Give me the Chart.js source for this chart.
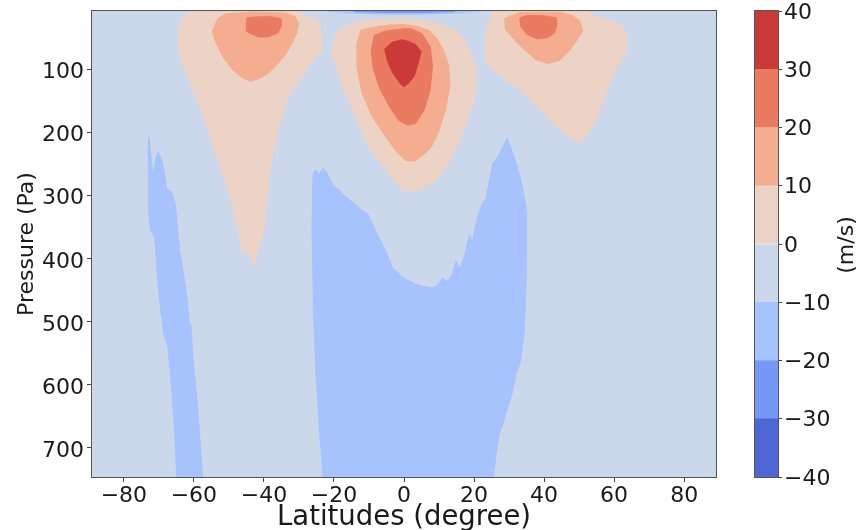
<!DOCTYPE html>
<html lang="en">
<head>
<meta charset="UTF-8">
<title>Zonal mean wind</title>
<script src="https://cdn.jsdelivr.net/npm/chart.js"></script>
<style>
    body { margin: 0; background: #fff; }
    .wrap { position: relative; width: 858px; height: 530px; }
    .wrap canvas { position: absolute; left: 0; top: 0; }
</style>
</head>
<body>
<div class="wrap">
    <canvas id="windChart" width="858" height="530"></canvas>
    <canvas id="colorBar" width="858" height="530"></canvas>
</div>
<script>
// axis limits and ticks
const latRange = [-89.1, 89.1];
const pressureRange = [7, 746];
const latTicks = [-80, -60, -40, -20, 0, 20, 40, 60, 80];
const pressureTicks = [100, 200, 300, 400, 500, 600, 700];

// contour levels (m/s) and the fill of each band between them
const levels = [-40, -30, -20, -10, 0, 10, 20, 30, 40];
const bandColors = ['#4f66d5', '#7699f5', '#a6c3fd', '#cbd8eb', '#ecd3c5', '#f5ad8f', '#ea7b61', '#c93a38'];

// band outlines, [latitude, pressure] vertices
const fieldAll = [[-90, 0], [90, 0], [90, 760], [-90, 760]];
const negWestStrip = [[-73.0, 206.3], [-72.6, 207.4], [-72.1, 238.1], [-71.6, 261.9], [-71.1, 243.3], [-70.2, 228.5], [-69.0, 243.3], [-68.1, 269.8], [-67.6, 288.3], [-66.4, 293.6], [-65.4, 306.8], [-65.0, 322.7], [-64.5, 354.4], [-63.8, 391.5], [-62.8, 423.2], [-61.9, 460.3], [-61.2, 497.3], [-60.7, 507.9], [-60.0, 566.1], [-59.0, 619], [-58.1, 687.8], [-57.2, 760], [-64.9, 760], [-65.7, 671.9], [-66.7, 592.5], [-67.6, 539.6], [-68.8, 518.5], [-69.5, 486.7], [-70.5, 433.8], [-71.1, 380.9], [-71.6, 362.4], [-72.6, 354.4], [-73.0, 328], [-73.1, 275], [-73.2, 227.5]];
const negTropics = [[-23.1, 760], [-24.3, 671.9], [-25.2, 592.5], [-26.0, 486.7], [-26.4, 354.4], [-26.2, 275.1], [-25.9, 261.9], [-25.2, 258.2], [-24.3, 264.5], [-23.1, 255.5], [-22.2, 260.3], [-20.9, 275.1], [-19.7, 285.7], [-18.4, 289.9], [-17.1, 298.9], [-15.2, 306.8], [-12.8, 318.5], [-10.0, 330.6], [-8.1, 354.4], [-5.2, 386.2], [-3.3, 412.7], [-0.5, 428.5], [3.3, 439.1], [5.7, 443.3], [8.1, 445.4], [9.5, 441.7], [11.0, 429.6], [12.4, 434.9], [13.5, 425.9], [14.8, 402.1], [16.0, 413.7], [17.2, 394.1], [18.6, 359.7], [19.5, 370.3], [20.2, 349.2], [21.2, 328], [22.4, 309.5], [23.3, 304.2], [24.3, 275.1], [25.2, 248.6], [26.7, 238.1], [28.1, 222.2], [29.5, 207.4], [30.7, 224.8], [31.9, 243.3], [33.3, 269.8], [34.3, 296.2], [35.2, 328], [35.1, 433.8], [34.5, 513.2], [33.5, 560.8], [32.2, 582], [31.0, 613.7], [29.3, 645.4], [27.4, 677.2], [26.5, 708.9], [25.3, 760]];
const negTopOuter = [[-23, 0], [-22, 8], [-15, 11], [-5, 13], [5, 13], [15, 11], [22, 8], [24, 0]];
const negTopInner = [[-17, 0], [-14, 8.5], [-5, 10], [5, 10], [14, 8.5], [19, 0]];
const posPoleEdge = [[-90, 560], [-88.85, 560], [-88.85, 760], [-90, 760]];
const posWest0 = [[-59.5, 0], [-62.4, 13.2], [-63.8, 21.1], [-64.5, 34.3], [-64.7, 58.2], [-64.1, 82], [-62.4, 105.8], [-60.5, 132.2], [-58.1, 164], [-56.2, 195.7], [-54.3, 227.5], [-52.4, 259.2], [-50.5, 291], [-48.6, 328], [-47.3, 359.7], [-46.4, 394.1], [-45.4, 388.8], [-44.3, 391.5], [-42.8, 415.3], [-42.2, 402.1], [-41.4, 380.9], [-40.5, 367.7], [-39.8, 349.2], [-39.2, 317.4], [-38.6, 280.4], [-37.6, 243.3], [-36.5, 211.6], [-34.7, 174.6], [-33.3, 148.1], [-31.4, 129.6], [-29.2, 113.7], [-27.0, 92.5], [-24.3, 76.7], [-23.1, 69.8], [-23.3, 47.6], [-23.8, 29.1], [-25.2, 18.5], [-29.0, 11.6], [-31.9, 0]];
const posWest10 = [[-50.9, 10.5], [-53.3, 18.5], [-54.9, 39.6], [-53.8, 58.2], [-51.9, 79.3], [-49.0, 100.5], [-46.2, 113.7], [-43.8, 119], [-41.4, 115.3], [-38.6, 105.8], [-36.2, 92.5], [-33.8, 76.7], [-31.9, 58.2], [-30.5, 42.3], [-30.0, 26.4], [-31.0, 14.8], [-33.8, 9.5], [-43.3, 7.9]];
const posWest20 = [[-45.0, 16.9], [-45.2, 39.6], [-43.3, 44.9], [-41.4, 49.2], [-38.7, 48.6], [-35.9, 42.3], [-34.8, 29.1], [-35.0, 18.5], [-38.6, 14.8], [-42.4, 15.8]];
const posEq0 = [[-20.9, 68.7], [-20.0, 47.6], [-18.1, 34.3], [-14.7, 25.3], [-10.0, 20.1], [-3.3, 18.5], [1.0, 18.5], [5.7, 21.1], [10.5, 27.5], [14.8, 38.0], [17.6, 55.5], [19.5, 76.7], [20.8, 103.1], [20.8, 127], [19.5, 158.7], [17.6, 190.4], [15.2, 222.2], [12.4, 253.9], [8.6, 277.7], [4.8, 291], [1.0, 295.2], [-1.0, 289], [-3.5, 271], [-7.3, 245], [-10.5, 222.2], [-12.8, 190.4], [-15.2, 158.7], [-17.6, 127], [-19.5, 97.8], [-20.6, 79.3]];
const posEq10 = [[-12.4, 37.0], [-13.6, 58.2], [-13.6, 95.2], [-12.1, 137.5], [-9.2, 174.6], [-5.4, 206.3], [-2.0, 232], [0.5, 245], [3.0, 246], [5.5, 236], [8.0, 222], [10.0, 199], [12.0, 164], [13.3, 124.3], [12.9, 92.5], [11.4, 68.7], [9.5, 50.2], [7.2, 37.0], [3.8, 30.6], [0.0, 27.5], [-4.0, 28.5], [-7.1, 30.6], [-10.9, 34.3]];
const posEq20 = [[-8.6, 44.9], [-9.5, 68.7], [-9.0, 97.8], [-7.1, 129.6], [-4.3, 158.7], [-1.5, 181], [1.0, 189], [3.3, 186.2], [5.9, 164], [7.6, 132.2], [8.3, 95.2], [7.6, 63.4], [5.2, 42.3], [1.9, 34.3], [0.0, 34.3], [-5.2, 38.0]];
const posEq30 = [[-5.7, 67.7], [-4.8, 87.3], [-3.3, 105.8], [-0.9, 124.3], [0.0, 128], [1.4, 121.7], [3.1, 110], [4.3, 87.3], [5.0, 71.4], [3.3, 59.2], [0.5, 52.9], [-0.5, 51.8], [-3.3, 55.5]];
const posEast0 = [[25.5, 0], [24.6, 18.5], [23.3, 39.6], [22.9, 63.4], [23.3, 87.3], [25.2, 100.5], [27.6, 111.1], [31.0, 124.3], [34.8, 142.8], [39.1, 166.6], [43.3, 190.4], [46.2, 203.7], [50.0, 216.9], [52.4, 203.7], [54.8, 182.5], [56.7, 153.4], [58.6, 124.3], [61.0, 95.2], [63.6, 74.0], [64.0, 47.6], [62.9, 32.8], [59.1, 21.1], [54.3, 13.2], [50.5, 0]];
const posEast10 = [[33.0, 8.5], [28.6, 18.5], [28.8, 36.0], [31.0, 50.2], [34.3, 68.7], [37.6, 84.6], [41.0, 91.0], [44.3, 86.2], [47.2, 71.4], [49.3, 55.5], [51.2, 38.6], [50.3, 22.2], [48.1, 13.2], [45.0, 8.5], [40.0, 8.0]];
const posEast20 = [[32.9, 16.9], [33.2, 31.7], [35.1, 44.9], [38.0, 51.8], [41.0, 50.2], [43.1, 42.3], [43.8, 29.1], [43.6, 16.9], [39.1, 13.2], [35.2, 13.2]];

// painted bottom to top; second entry is the lower level of the band
const layers = [
    [fieldAll, -10],
    [negWestStrip, -20], [negTropics, -20], [negTopOuter, -20], [negTopInner, -30],
    [posPoleEdge, 0],
    [posWest0, 0], [posWest10, 10], [posWest20, 20],
    [posEq0, 0], [posEq10, 10], [posEq20, 20], [posEq30, 30],
    [posEast0, 0], [posEast10, 10], [posEast20, 20]
];

const FONT = "'DejaVu Sans', sans-serif";
const TEXT = '#1a1a1a';
Chart.defaults.font.family = FONT;
Chart.defaults.font.size = 22;
Chart.defaults.color = TEXT;

const minus = v => String(v).replace('-', '\u2212');

// box round the plot area
const frame = {
    id: 'frame',
    afterDraw(chart) {
        const { ctx, chartArea: a } = chart;
        ctx.save();
        ctx.strokeStyle = '#555';
        ctx.lineWidth = 1;
        ctx.strokeRect(a.left - 0.5, a.top - 0.5, a.right - a.left + 1, a.bottom - a.top + 1);
        ctx.restore();
    }
};

const tickGrid = { drawOnChartArea: false, tickLength: 5, tickColor: '#444' };

const datasets = layers.map(([pts, lo], i) => ({
    data: pts.concat([pts[0]]).map(([x, y]) => ({ x: x, y: y })),
    backgroundColor: bandColors[levels.indexOf(lo)],
    borderColor: 'rgba(0,0,0,0)',
    borderWidth: 0,
    pointRadius: 0,
    pointHoverRadius: 0,
    tension: 0,
    fill: 'shape',
    order: layers.length - i
}));

new Chart(document.getElementById('windChart'), {
    type: 'line',
    data: { datasets: datasets },
    options: {
        responsive: false,
        animation: false,
        devicePixelRatio: 1,
        events: [],
        layout: { padding: { top: 11, right: 142, left: 0, bottom: 0 } },
        plugins: { legend: { display: false }, tooltip: { enabled: false } },
        scales: {
            x: {
                type: 'linear',
                min: latRange[0],
                max: latRange[1],
                afterBuildTicks: s => { s.ticks = latTicks.map(v => ({ value: v })); },
                afterFit: s => { s.height = 53; s.paddingLeft = 0; s.paddingRight = 0; },
                ticks: { padding: 1, autoSkip: false, maxRotation: 0, callback: minus },
                grid: tickGrid,
                border: { display: false },
                title: {
                    display: true,
                    text: 'Latitudes (degree)',
                    font: { size: 27.5 },
                    padding: { top: 0, bottom: -4 }
                }
            },
            y: {
                type: 'linear',
                reverse: true,
                min: pressureRange[0],
                max: pressureRange[1],
                afterBuildTicks: s => { s.ticks = pressureTicks.map(v => ({ value: v })); },
                afterFit: s => { s.width = 92; s.paddingTop = 0; s.paddingBottom = 0; },
                ticks: { padding: 3, labelOffset: 3, callback: minus },
                grid: tickGrid,
                border: { display: false },
                title: { display: true, text: 'Pressure (Pa)', padding: { top: 14, bottom: 0 } }
            }
        }
    },
    plugins: [frame]
});

// colour bar title, rotated to read upwards
const unitLabel = {
    id: 'unitLabel',
    afterDraw(chart) {
        const { ctx, chartArea: a } = chart;
        ctx.save();
        ctx.translate(a.right + 69, (a.top + a.bottom) / 2 + 1);
        ctx.rotate(-Math.PI / 2);
        ctx.font = '22px ' + FONT;
        ctx.fillStyle = TEXT;
        ctx.textAlign = 'center';
        ctx.textBaseline = 'middle';
        ctx.fillText('(m/s)', 0, 0);
        ctx.restore();
    }
};

new Chart(document.getElementById('colorBar'), {
    type: 'bar',
    data: {
        labels: [''],
        datasets: bandColors.map((c, i) => ({
            data: [[levels[i], levels[i + 1]]],
            backgroundColor: c,
            borderWidth: 0,
            grouped: false,
            barPercentage: 1,
            categoryPercentage: 1
        }))
    },
    options: {
        responsive: false,
        animation: false,
        devicePixelRatio: 1,
        events: [],
        layout: { padding: { left: 755, top: 11, bottom: 53, right: 0 } },
        plugins: { legend: { display: false }, tooltip: { enabled: false } },
        scales: {
            x: { display: false },
            y: {
                position: 'right',
                min: levels[0],
                max: levels[levels.length - 1],
                afterBuildTicks: s => { s.ticks = levels.map(v => ({ value: v })); },
                afterFit: s => { s.width = 80; s.paddingTop = 0; s.paddingBottom = 0; },
                ticks: { padding: 2, labelOffset: 2, callback: minus },
                grid: { drawOnChartArea: false, tickLength: 4, tickColor: '#444' },
                border: { display: false }
            }
        }
    },
    plugins: [frame, unitLabel]
});
</script>
</body>
</html>
